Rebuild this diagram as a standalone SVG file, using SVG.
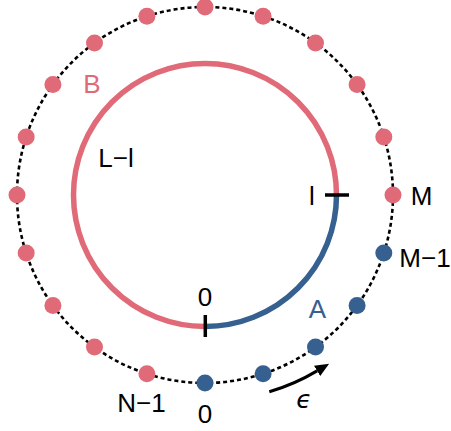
<svg xmlns="http://www.w3.org/2000/svg" width="451" height="431" viewBox="0 0 451 431">
<style>
.lbl{font-family:"Liberation Sans",Arial,sans-serif;font-size:26px;fill:#000;text-anchor:middle}
.red{fill:#e06a77}
.blue{fill:#35608f}
.eps{font-family:"DejaVu Sans",sans-serif;font-style:italic;font-size:25px;text-anchor:middle}
.ring{fill:none;stroke:#000;stroke-width:2.6;stroke-dasharray:4 3}
.arc{fill:none;stroke-width:5.5}
.tick{stroke:#000;stroke-width:3.5;fill:none}
</style>
<defs>
<marker id="ah" markerWidth="14" markerHeight="12" refX="0" refY="6" orient="auto" markerUnits="userSpaceOnUse">
<path d="M0,0 L14,6 L0,12 Z" fill="#000"/>
</marker>
</defs>
<rect width="451" height="431" fill="#fff"/>
<g id="connectors">
<circle class="ring" cx="205" cy="195" r="188"/>
<path class="arc" stroke="#e06a77" d="M336.5,195 A131.5,131.5 0 1 0 205,326.5"/>
<path class="arc" stroke="#35608f" d="M205,326.5 A131.5,131.5 0 0 0 336.5,195"/>
<line class="tick" x1="325" y1="195" x2="349" y2="195"/>
<line class="tick" x1="205.3" y1="315" x2="205.3" y2="337"/>
<path d="M269.3,391.8 A207,207 0 0 0 317.1,370.9" fill="none" stroke="#000" stroke-width="3" marker-end="url(#ah)"/>
</g>
<g id="dots">
<g id="dot0" class="blue"><circle cx="205" cy="383" r="8.5"/></g>
<g id="dot1" class="blue"><circle cx="263.09" cy="373.81" r="8.5"/></g>
<g id="dot2" class="blue"><circle cx="315.51" cy="347.09" r="8.5"/></g>
<g id="dot3" class="blue"><circle cx="357.09" cy="305.51" r="8.5"/></g>
<g id="dot4" class="blue"><circle cx="383.81" cy="253.09" r="8.5"/></g>
<g id="dot5" class="red"><circle cx="393" cy="195" r="8.5"/></g>
<g id="dot6" class="red"><circle cx="383.81" cy="136.91" r="8.5"/></g>
<g id="dot7" class="red"><circle cx="357.09" cy="84.49" r="8.5"/></g>
<g id="dot8" class="red"><circle cx="315.51" cy="42.91" r="8.5"/></g>
<g id="dot9" class="red"><circle cx="263.09" cy="16.19" r="8.5"/></g>
<g id="dot10" class="red"><circle cx="205" cy="7" r="8.5"/></g>
<g id="dot11" class="red"><circle cx="146.91" cy="16.19" r="8.5"/></g>
<g id="dot12" class="red"><circle cx="94.49" cy="42.91" r="8.5"/></g>
<g id="dot13" class="red"><circle cx="52.91" cy="84.49" r="8.5"/></g>
<g id="dot14" class="red"><circle cx="26.19" cy="136.91" r="8.5"/></g>
<g id="dot15" class="red"><circle cx="17" cy="195" r="8.5"/></g>
<g id="dot16" class="red"><circle cx="26.19" cy="253.09" r="8.5"/></g>
<g id="dot17" class="red"><circle cx="52.91" cy="305.51" r="8.5"/></g>
<g id="dot18" class="red"><circle cx="94.49" cy="347.09" r="8.5"/></g>
<g id="dot19" class="red"><circle cx="146.91" cy="373.81" r="8.5"/></g>
</g>
<g id="labels">
<text class="lbl red" x="92" y="93">B</text>
<text class="lbl" x="116" y="167">L−l</text>
<text class="lbl" x="312" y="205">l</text>
<text class="lbl" x="421.5" y="205">M</text>
<text class="lbl" x="425" y="266.5">M−1</text>
<text class="lbl blue" x="317.5" y="317.5">A</text>
<text class="lbl" x="205" y="305.5">0</text>
<text class="lbl" x="205" y="423">0</text>
<text class="lbl" x="141.5" y="411.5">N−1</text>
<text class="eps" x="304" y="408">ϵ</text>
</g>
</svg>
